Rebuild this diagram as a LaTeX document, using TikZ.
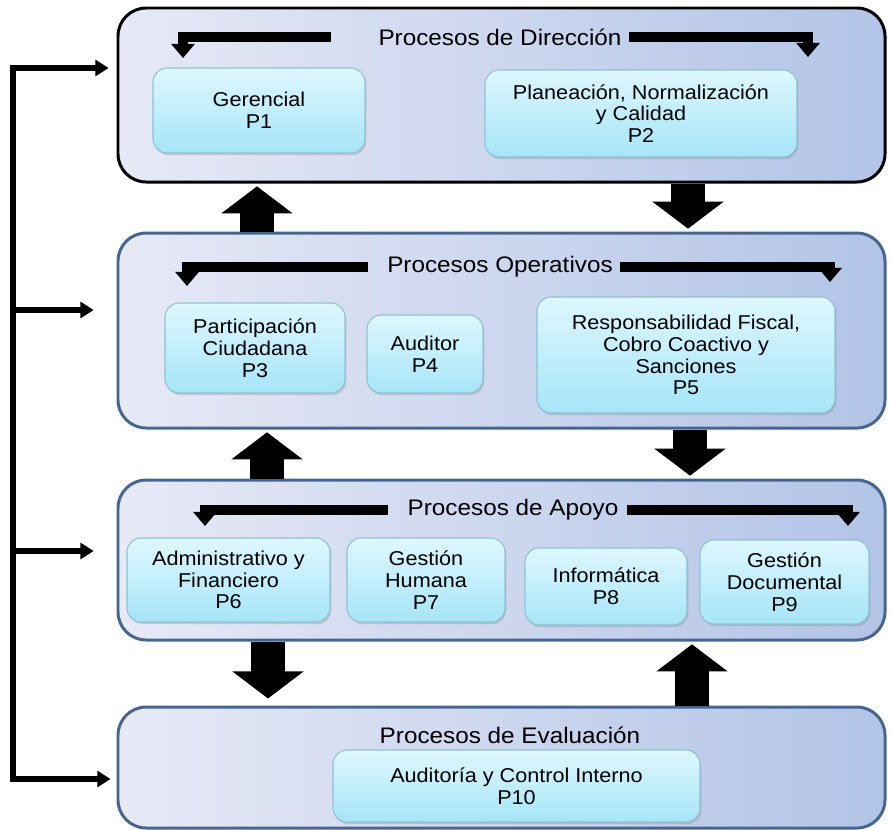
\documentclass[tikz,border=0pt]{standalone}
\usepackage{fontspec}
\newfontfamily\diagfont{Liberation Sans}[FakeStretch=1.08]
\usetikzlibrary{arrows.meta,shadows}

\newlength\px
\setlength\px{0.02cm}
\newcommand\titletext{\diagfont\fontsize{12.8}{15}\selectfont}
\newcommand\proctext{\diagfont\fontsize{11.4}{12.4}\selectfont}

\definecolor{framel}{HTML}{E7E9F6}
\definecolor{framer}{HTML}{B2C4E7}
\definecolor{frameline}{HTML}{46668F}
\definecolor{procline}{HTML}{8DC2D3}
\definecolor{proctop}{HTML}{DEF7FE}
\definecolor{procbot}{HTML}{A6E5F8}

\tikzset{
  frame/.style={draw=frameline, line width=1.7pt, rounded corners=16pt,
    left color=framel, right color=framer, minimum width=767\px},
  proc/.style={draw=procline, line width=0.6pt, rounded corners=8pt,
    top color=proctop, bottom color=procbot, align=center, font=\proctext,
    drop shadow={shadow xshift=0.8pt, shadow yshift=-1.2pt, opacity=0.3}},
  title/.style={font=\titletext, inner sep=0pt},
  bentarrow/.style={line width=5.4pt, -{Triangle[length=8pt,width=13pt]}},
  blockarrow/.style={line width=18.8pt, -{Triangle[length=15.4pt,width=39.8pt]}, shorten >=1.6pt},
  feedarrow/.style={line width=3.1pt, -{Triangle[length=7.5pt,width=9pt]}}
}

\begin{document}
\begin{tikzpicture}[x=0.02cm, y=-0.02cm]
  \useasboundingbox (0,0) rectangle (891,829);

  % frames
  \node[frame, draw=black, minimum height=174\px] (dir) at (501.5,95)    {};
  \node[frame, minimum height=195\px]             (ops) at (501.5,330.5) {};
  \node[frame, minimum height=160\px]             (apo) at (501.5,560)   {};
  \node[frame, minimum height=121\px]             (eva) at (501.5,767.5) {};

  % titles
  \node[title] (tdir) at (500,37)  {Procesos de Dirección};
  \node[title] (tops) at (500,267) {Procesos Operativos};
  \node[title] (tapo) at (513,510) {Procesos de Apoyo};
  \node[title] (teva) at (510,735) {Procesos de Evaluación};

  % processes
  \node[proc, minimum width=212\px, minimum height=85\px]  (p1)  at (259,110.5) {Gerencial\\P1};
  \node[proc, minimum width=312\px, minimum height=87\px]  (p2)  at (641,113.5) {Planeación, Normalización\\y Calidad\\P2};
  \node[proc, minimum width=180\px, minimum height=90\px]  (p3)  at (255,348)   {Participación\\Ciudadana\\P3};
  \node[proc, minimum width=116\px, minimum height=78\px]  (p4)  at (425,354)   {Auditor\\P4};
  \node[proc, minimum width=298\px, minimum height=116\px] (p5)  at (686,355)   {Responsabilidad Fiscal,\\Cobro Coactivo y\\Sanciones\\P5};
  \node[proc, minimum width=203\px, minimum height=84\px]  (p6)  at (228.5,580) {Administrativo y\\Financiero\\P6};
  \node[proc, minimum width=158\px, minimum height=84\px]  (p7)  at (426,580)   {Gestión\\Humana\\P7};
  \node[proc, minimum width=162\px, minimum height=77\px]  (p8)  at (606,586.5) {Informática\\P8};
  \node[proc, minimum width=169\px, minimum height=84\px]  (p9)  at (784.5,582) {Gestión\\Documental\\P9};
  \node[proc, minimum width=367\px, minimum height=72\px]  (p10) at (516.5,786) {Auditoría y Control Interno\\P10};

  % arrows under the titles
  \coordinate (dl) at (183,58);  \coordinate (dr) at (808,57);
  \coordinate (ol) at (187,286); \coordinate (or) at (830,282);
  \coordinate (al) at (205,526); \coordinate (ar) at (848,526);
  \draw[bentarrow] ([xshift=-27pt]tdir.west) -| (dl);
  \draw[bentarrow] ([xshift=4pt]tdir.east)   -| (dr);
  \draw[bentarrow] ([xshift=-11pt]tops.west) -| (ol);
  \draw[bentarrow] ([xshift=4pt]tops.east)   -| (or);
  \draw[bentarrow] ([xshift=-11pt]tapo.west) -| (al);
  \draw[bentarrow] ([xshift=5pt]tapo.east)   -| (ar);

  % arrows between the levels
  \coordinate (xa) at (257,0); \coordinate (xb) at (688,0);
  \coordinate (xc) at (267,0); \coordinate (xd) at (690,0);
  \coordinate (xe) at (268,0); \coordinate (xf) at (692,0);
  \draw[blockarrow] (ops.north -| xa) -- (dir.south -| xa);
  \draw[blockarrow] (dir.south -| xb) -- (ops.north -| xb);
  \draw[blockarrow] (apo.north -| xc) -- (ops.south -| xc);
  \draw[blockarrow] (ops.south -| xd) -- (apo.north -| xd);
  \draw[blockarrow, shorten >=4pt] (apo.south -| xe) -- (eva.north -| xe);
  \draw[blockarrow] (eva.north -| xf) -- (apo.south -| xf);

  % feedback line on the left
  \coordinate (f1) at (13,68);
  \coordinate (f2) at (13,310);
  \coordinate (f3) at (13,551);
  \coordinate (f4) at (13,779);
  \draw[line width=3.1pt, line cap=rect] (f1) -- (f4);
  \draw[feedarrow, shorten >=4.5pt] (f1) -- (dir.west |- f1);
  \draw[feedarrow, shorten >=13pt]  (f2) -- (ops.west |- f2);
  \draw[feedarrow, shorten >=13pt]  (f3) -- (apo.west |- f3);
  \draw[feedarrow, shorten >=3.4pt] (f4) -- (eva.west |- f4);
\end{tikzpicture}
\end{document}
